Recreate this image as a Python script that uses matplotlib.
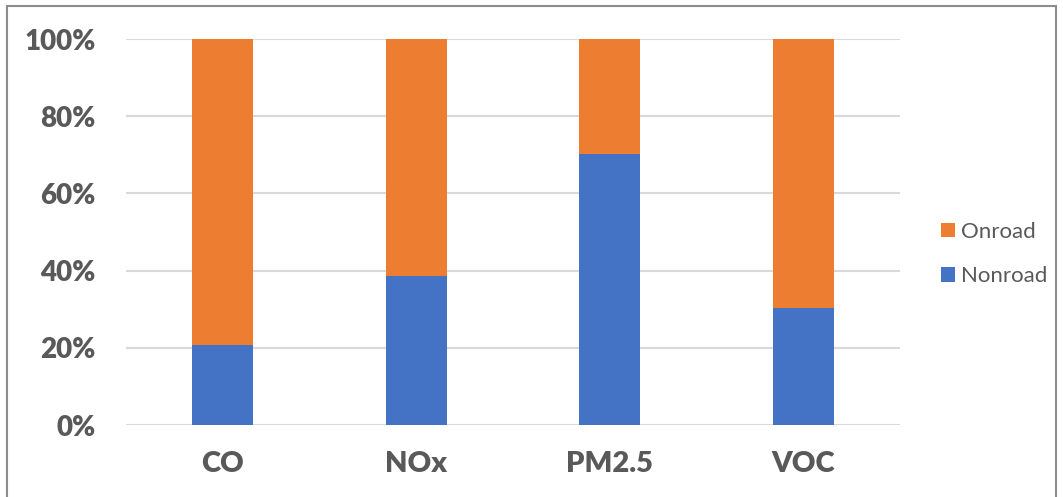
import matplotlib
matplotlib.use("Agg")
import matplotlib.pyplot as plt
from matplotlib.patches import Rectangle
from matplotlib.ticker import PercentFormatter

categories = ["CO", "NOx", "PM2.5", "VOC"]
nonroad = [20.8, 38.7, 70.3, 30.2]
onroad = [100 - v for v in nonroad]
yticks = [0, 20, 40, 60, 80, 100]

BLUE = "#4472C4"
ORANGE = "#ED7D31"
GRAY_TXT = "#595959"
GRID = "#D9D9D9"

plt.rcParams["font.family"] = ["Lato", "DejaVu Sans"]

W, H = 1063, 497
fig = plt.figure(figsize=(W / 100, H / 100), dpi=100)
fig.patch.set_facecolor("white")

# outer chart frame
fig.add_artist(Rectangle((7 / W, -0.05), (1056 - 7) / W, 1.05 - 6 / H,
                         transform=fig.transFigure, fill=False,
                         edgecolor="#8C8C8C", linewidth=1.5))

ax = fig.add_axes([126 / W, (H - 425) / H, (900 - 126) / W, (425 - 39) / H])

x = range(len(categories))
width = 0.315
ax.bar(x, nonroad, width, color=BLUE, label="Nonroad", zorder=3)
ax.bar(x, onroad, width, bottom=nonroad, color=ORANGE, label="Onroad", zorder=3)

ax.set_xlim(-0.5, len(categories) - 0.5)
ax.set_ylim(0, 100)
ax.set_yticks(yticks)
ax.yaxis.set_major_formatter(PercentFormatter(decimals=0))
ax.grid(axis="y", color=GRID, linewidth=1.5, zorder=0)
for s in ax.spines.values():
    s.set_visible(False)
ax.tick_params(axis="both", length=0)
ax.tick_params(axis="y", pad=22)
ax.tick_params(axis="x", pad=19)
ax.set_xticks(list(x))
ax.set_xticklabels(categories)
for lbl in ax.get_yticklabels():
    lbl.set_fontsize(20)
    lbl.set_fontweight("heavy")
    lbl.set_color(GRAY_TXT)
for lbl in ax.get_xticklabels():
    lbl.set_fontsize(21)
    lbl.set_fontweight("heavy")
    lbl.set_color(GRAY_TXT)

handles, labels = ax.get_legend_handles_labels()
leg = fig.legend(handles[::-1], labels[::-1], loc="center left",
                 bbox_to_anchor=(921 / W, (H - 254) / H), frameon=False,
                 fontsize=16, handlelength=0.65, handleheight=0.65,
                 handletextpad=0.25, labelspacing=1.1, labelcolor=GRAY_TXT)

fig.savefig("out.png", dpi=100)
